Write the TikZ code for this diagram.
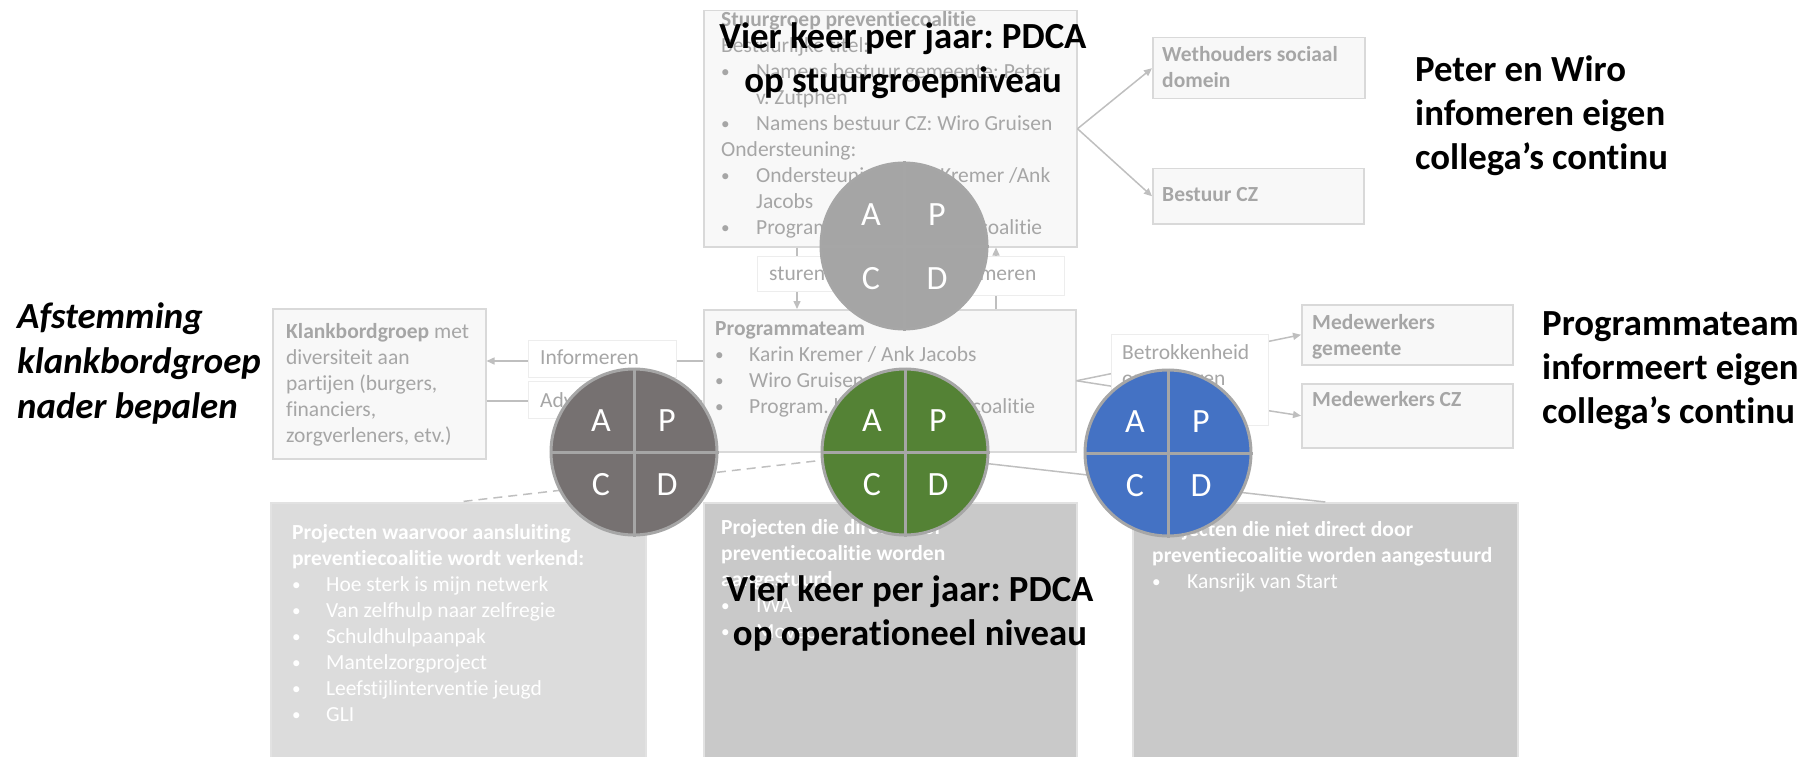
\documentclass[tikz,border=0pt]{standalone}
\usepackage{fontspec}
\setmainfont{Carlito}[Ligatures=NoCommon]
\frenchspacing
\usetikzlibrary{arrows.meta}
\definecolor{txtgray}{HTML}{A6A6A6}
\definecolor{boxfill}{HTML}{F8F8F8}
\definecolor{boxline}{HTML}{D9D9D9}
\definecolor{lblline}{HTML}{EDEDED}
\definecolor{lnkcol}{HTML}{BFBFBF}
\definecolor{projA}{HTML}{DCDCDC}
\definecolor{projB}{HTML}{C9C9C9}
\definecolor{projline}{HTML}{E2E2E2}
\definecolor{cgray}{HTML}{A5A5A5}
\definecolor{cdark}{HTML}{767171}
\definecolor{cgreen}{HTML}{548235}
\definecolor{cblue}{HTML}{4472C4}
\definecolor{cring}{HTML}{A6A6A6}
\newcommand{\pdot}{\raisebox{0.06em}{\scalebox{0.8}{\textbullet}}}
\newcommand{\pbul}{\makebox[35pt][l]{\pdot}}
\newcommand{\pbulb}{\makebox[34pt][l]{\pdot}}
\newcommand{\pind}{\hspace*{35pt}}
\tikzset{
  box/.style={draw=boxline, fill=boxfill, line width=1.5pt, inner sep=0, anchor=north west},
  projbox/.style={draw=projline, line width=1.5pt, inner sep=0, anchor=north west},
  lbl/.style={draw=lblline, fill=white, line width=1pt, inner sep=0, anchor=north west},
  btxt/.style={anchor=north west, inner sep=0, align=left, text=txtgray, font=\fontsize{21.5}{26}\selectfont},
  wtxt/.style={btxt, text=white},
  big/.style={inner sep=0, text=black, font=\fontsize{36.8}{44}\selectfont\bfseries},
  lnk/.style={draw=lnkcol, line width=1.5pt},
  arr/.style={lnk, -{Triangle[length=8pt,width=7pt]}},
  pdca/.style={circle, draw=cring, line width=3pt, minimum size=166pt, inner sep=0},
  qline/.style={draw=cring, line width=3pt},
  qd/.style={text=white, inner sep=0, font=\fontsize{34}{40}\selectfont},
}
\begin{document}
\begin{tikzpicture}[x=1pt,y=-1pt]
\useasboundingbox (0,0) rectangle (1808,757);
\clip (0,0) rectangle (1808,757);

% ---- main boxes
\node[box, minimum width=373, minimum height=236] (stuur) at (703,10) {};
\node[btxt] (stuurt) at (721,8.3) {\strut\textbf{Stuurgroep preventiecoalitie}\\
Bestuurlijke titel:\\
\pbul Namens bestuur gemeente: Peter\\
\pind v. Zutphen\\
\pbul Namens bestuur CZ: Wiro Gruisen\\
Ondersteuning:\\
\pbul Ondersteuning Karin Kremer /Ank\\
\pind Jacobs\\
\pbul Program. leider preventiecoalitie};

\node[box, minimum width=372, minimum height=142] (prog) at (703,309) {};
\node[btxt] (progt) at (715,317.3) {\strut\textbf{Programmateam}\\
\pbulb Karin Kremer / Ank Jacobs\\
\pbulb Wiro Gruisen\\
\pbulb Program. leider preventiecoalitie};

\node[box, minimum width=213, minimum height=150] (klank) at (272,308) {};
\node[btxt] (klankt) at (286,320.3) {\strut\textbf{Klankbordgroep} met\\
diversiteit aan\\
partijen (burgers,\\
financiers,\\
zorgverleners, etv.)};

\node[box, minimum width=212, minimum height=61] (weth) at (1152,37) {};
\node[btxt, font=\fontsize{21.5}{26}\selectfont\bfseries] (wetht) at (1162,43.3) {\strut Wethouders sociaal\\domein};

\node[box, minimum width=211, minimum height=55] (bestuur) at (1152,168) {};
\node[btxt, font=\fontsize{21.5}{26}\selectfont\bfseries] (bestuurt) at (1162,183.3) {\strut Bestuur CZ};

\node[box, minimum width=211, minimum height=60] (medgem) at (1301,304) {};
\node[btxt, font=\fontsize{21.5}{26}\selectfont\bfseries] (medgemt) at (1312,311.3) {\strut Medewerkers\\gemeente};

\node[box, minimum width=211, minimum height=64] (medcz) at (1301,383) {};
\node[btxt, font=\fontsize{21.5}{26}\selectfont\bfseries] (medczt) at (1312,388.3) {\strut Medewerkers CZ};

% ---- project boxes
\node[projbox, fill=projA, minimum width=375, minimum height=270] (projA) at (270,502) {};
\node[wtxt] (projAt) at (292,521.3) {\strut\textbf{Projecten waarvoor aansluiting}\\
\textbf{preventiecoalitie wordt verkend:}\\
\pbulb Hoe sterk is mijn netwerk\\
\pbulb Van zelfhulp naar zelfregie\\
\pbulb Schuldhulpaanpak\\
\pbulb Mantelzorgproject\\
\pbulb Leefstijlinterventie jeugd\\
\pbulb GLI};

\node[projbox, fill=projB, minimum width=373, minimum height=270] (projB) at (703,502) {};
\node[wtxt] (projBt) at (721,516.3) {\strut\textbf{Projecten die direct door}\\
\textbf{preventiecoalitie worden}\\
\textbf{aangestuurd}\\
\pbul IWA\\
\pbul Moveo};

\node[projbox, fill=projB, minimum width=385, minimum height=270] (projC) at (1132,502) {};
\node[wtxt] (projCt) at (1152,518.3) {\strut\textbf{Projecten die niet direct door}\\
\textbf{preventiecoalitie worden aangestuurd}\\
\pbul Kansrijk van Start};

% ---- connectors
\coordinate (sx) at (797,0);
\coordinate (ix) at (996,0);
\coordinate (iy) at (0,361);
\coordinate (ay) at (0,401);
\draw[arr] (stuur.east) -- (weth.west);
\draw[arr] (stuur.east) -- (bestuur.west);
\draw[arr] (sx |- stuur.south) -- (sx |- prog.north);
\draw[arr] (ix |- prog.north) -- (ix |- stuur.south);
\draw[arr] (prog.west |- iy) -- (klank.east |- iy);
\draw[arr] (klank.east |- ay) -- (prog.west |- ay);
\draw[arr] (prog.east) -- (medgem.west);
\draw[arr] (prog.east) -- (medcz.west);
\draw[lnk, dash pattern=on 9pt off 6pt] (prog.south) -- (projA.north);
\draw[lnk] (prog.south) -- (projB.north);
\draw[lnk] (prog.south) -- (projC.north);

% ---- connector labels
\node[lbl, minimum width=93, minimum height=35] (lsturen) at (757,256) {};
\node[btxt] (lsturent) at (769,262.3) {\strut sturen};
\node[lbl, minimum width=136, minimum height=39] (linfo) at (928,256) {};
\node[btxt] (linfot) at (938,262.3) {\strut informeren};
\node[lbl, minimum width=148, minimum height=37] (linfk) at (528,340) {};
\node[btxt] (linfkt) at (540,346.3) {\strut Informeren};
\node[lbl, minimum width=148, minimum height=37] (ladv) at (528,381) {};
\node[btxt] (ladvt) at (540,389.3) {\strut Adviseren};
\node[lbl, minimum width=157, minimum height=91] (lbetr) at (1111,334) {};
\node[btxt] (lbetrt) at (1122,341.3) {\strut Betrokkenheid\\organiseren\\bij collega's};

% ---- PDCA circles
\foreach \nm/\cx/\cy/\col in {c1/904/246/cgray, c2/634/452/cdark, c3/905/452/cgreen, c4/1168/453/cblue}{
  \node[pdca, fill=\col] (\nm) at (\cx,\cy) {};
  \draw[qline] (\nm.north) -- (\nm.south);
  \draw[qline] (\nm.west) -- (\nm.east);
  \node[qd] (\nm A) at ([shift={(-33,-31)}]\nm.center) {A};
  \node[qd] (\nm P) at ([shift={(33,-31)}]\nm.center) {P};
  \node[qd] (\nm C) at ([shift={(-33,33)}]\nm.center) {C};
  \node[qd] (\nm D) at ([shift={(33,33)}]\nm.center) {D};
}

% ---- black annotations
\node[big, align=center, anchor=north] (vier1) at (903,17.2) {\strut Vier keer per jaar: PDCA\\op stuurgroepniveau};
\node[big, align=center, anchor=north] (vier2) at (910,570.2) {\strut Vier keer per jaar: PDCA\\op operationeel niveau};
\node[big, align=left, anchor=north west] (peter) at (1415,50.9) {\strut Peter en Wiro\\infomeren eigen\\collega’s continu};
\node[big, align=left, anchor=north west] (progi) at (1542,304.2) {\strut Programmateam\\informeert eigen\\collega’s continu};
\node[big, align=left, anchor=north west, font=\fontsize{36.8}{45}\selectfont\bfseries\itshape] (afst) at (17,296.5) {\strut Afstemming\\klankbordgroep\\nader bepalen};
\end{tikzpicture}
\end{document}
